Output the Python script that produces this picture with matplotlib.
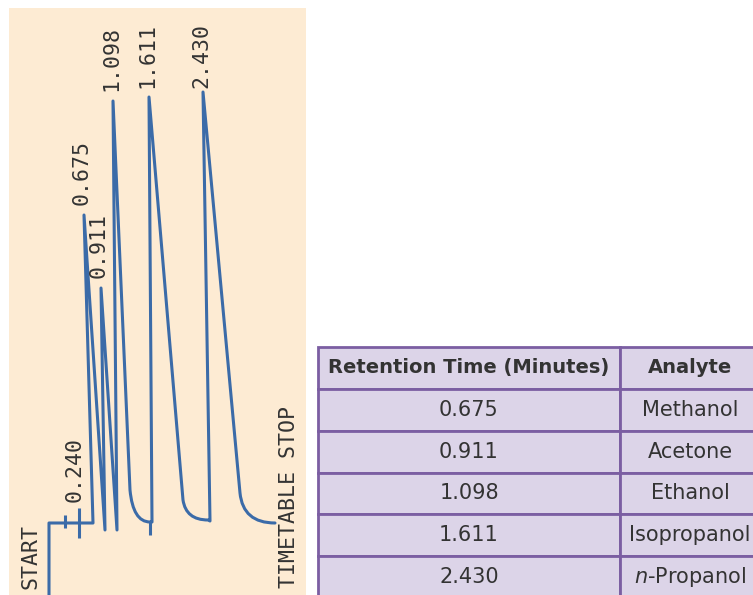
import numpy as np
import matplotlib.pyplot as plt
from matplotlib.path import Path
from matplotlib.patches import PathPatch

plt.switch_backend('agg')

# strip chart trace
# x = position along the strip, y = signal above the baseline
start_x = 49
baseline_end_x = 93
mark_x = [65, 79, 150]
mark_lo = [-5, -15, -12]
mark_hi = [8, 15, 1]

peak_times = ['0.675', '0.911', '1.098', '1.611', '2.430']
peak_x = [84, 101, 113, 149, 203]
peak_h = [308, 235, 422, 426, 431]
rise_x = [93, 105, 117, 152, 210]
rise_y = [0, -7, -7, 1, 2]

# the last three peaks come back down with a rounded tail
tail_knee_x = [130, 183, 240]
tail_knee_y = [33, 23, 30]
tail_end_x = [150, 208, 275]
tail_end_y = [1, 3, 0]

inject_time = '0.240'

# table
ret_times = ['0.675', '0.911', '1.098', '1.611', '2.430']
analytes = ['Methanol', 'Acetone', 'Ethanol', 'Isopropanol', r'$\mathit{n}$-Propanol']
col_labels = ['Retention Time (Minutes)', 'Analyte']

W, H = 753, 595
blue = '#3b6ba8'
beige = '#fdebd3'
txt = '#333333'
lav = '#dcd4e8'
purple = '#7b5ea2'

fig = plt.figure(figsize=(W / 100, H / 100), dpi=100)

# chromatogram panel
ax = fig.add_axes([9 / W, 0, 297 / W, 587 / H])
ax.set_xlim(9, 306)
ax.set_ylim(-72, 515)
ax.set_facecolor(beige)
for s in ax.spines.values():
    s.set_visible(False)
ax.set_xticks([])
ax.set_yticks([])

verts = [(start_x, -90), (start_x, 0), (baseline_end_x, 0)]
codes = [Path.MOVETO, Path.LINETO, Path.LINETO]
for i in range(len(peak_x)):
    verts += [(rise_x[i], rise_y[i]), (peak_x[i], peak_h[i])]
    codes += [Path.LINETO, Path.LINETO]
    if i < 2:
        continue  # falls straight into the next rise
    j = i - 2
    verts += [(tail_knee_x[j], tail_knee_y[j]),
              (tail_knee_x[j] + 3, tail_end_y[j]),
              (tail_end_x[j], tail_end_y[j])]
    codes += [Path.LINETO, Path.CURVE3, Path.CURVE3]

ax.add_patch(PathPatch(Path(verts, codes), facecolor='none', edgecolor=blue,
                       lw=2.2, joinstyle='round', capstyle='round'))
ax.vlines(mark_x, mark_lo, mark_hi, color=blue, lw=2.2)

mono = dict(family='DejaVu Sans Mono', fontsize=15.5, color=txt,
            rotation=90, ha='center', va='bottom')
for t, x, h in zip(peak_times, peak_x, peak_h):
    ax.text(x - 2, min(h + 10, 435), t, **mono)
ax.text(75, 21, inject_time, **mono)
ax.text(31, -66, 'START', **mono)
ax.text(289, -65, 'TIMETABLE STOP', **mono)

# table of retention times
tax = fig.add_axes([318 / W, -3 / H, 442 / W, 251 / H])
tax.axis('off')
rows = [[t, a] for t, a in zip(ret_times, analytes)]
tbl = tax.table(cellText=rows, colLabels=col_labels, colWidths=[302 / 442, 140 / 442],
                cellLoc='center', bbox=[0, 0, 1, 1])
tbl.auto_set_font_size(False)
tbl.set_fontsize(15)
for (r, c), cell in tbl.get_celld().items():
    cell.set_facecolor(lav)
    cell.set_edgecolor(purple)
    cell.set_linewidth(2)
    cell.get_text().set_color(txt)
    if r == 0:
        cell.get_text().set_fontweight('bold')
        cell.get_text().set_fontsize(14)

fig.savefig('out.png', dpi=100)
